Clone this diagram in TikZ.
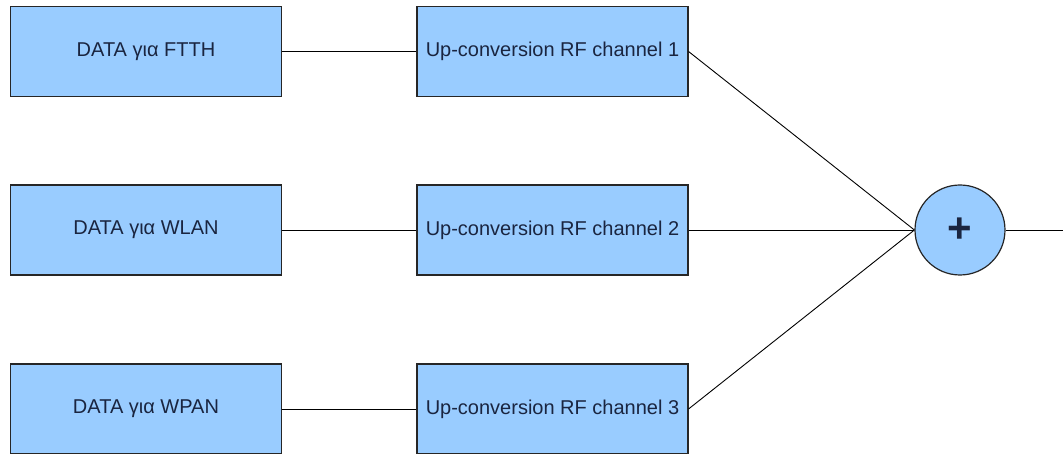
\documentclass[tikz,border=0pt]{standalone}
\usepackage{fontspec}
\setmainfont{Liberation Sans}
\definecolor{boxfill}{HTML}{99CCFF}
\definecolor{boxtext}{HTML}{1A2540}
\begin{document}
\begin{tikzpicture}[x=1pt,y=1pt,
  block/.style={draw=black!85, line width=1.1pt, fill=boxfill, minimum width=271pt,
    minimum height=90pt, inner sep=0pt, text=boxtext,
    font=\fontsize{20}{21}\selectfont},
  adder/.style={circle, draw=black!85, line width=1.2pt, fill=boxfill, minimum size=90pt,
    inner sep=0pt, text=boxtext},
  link/.style={draw=black, line width=0.9pt}]
\useasboundingbox (0,0) rectangle (1063,454);

% data sources
\node[block] (d1) at (146,402.5) {DATA για FTTH};
\node[block] (d2) at (146,224) {DATA για WLAN};
\node[block] (d3) at (146,45) {DATA για WPAN};

% up-conversion stages
\node[block] (u1) at (552.5,402.5) {Up-conversion RF channel 1};
\node[block] (u2) at (552.5,224) {Up-conversion RF channel 2};
\node[block] (u3) at (552.5,45) {Up-conversion RF channel 3};

% summing junction
\node[adder] (sum) at (960,224) {\fontsize{42}{42}\selectfont\textbf{+}};
\coordinate (out) at (1063,224);

\draw[link] (d1.east) -- (u1.west);
\draw[link] (d2.east) -- (u2.west);
\draw[link] (d3.east) -- (u3.west);
\draw[link] (u1.east) -- (sum.west);
\draw[link] (u2.east) -- (sum.west);
\draw[link] (u3.east) -- (sum.west);
\draw[link] (sum.east) -- (out);
\end{tikzpicture}
\end{document}
